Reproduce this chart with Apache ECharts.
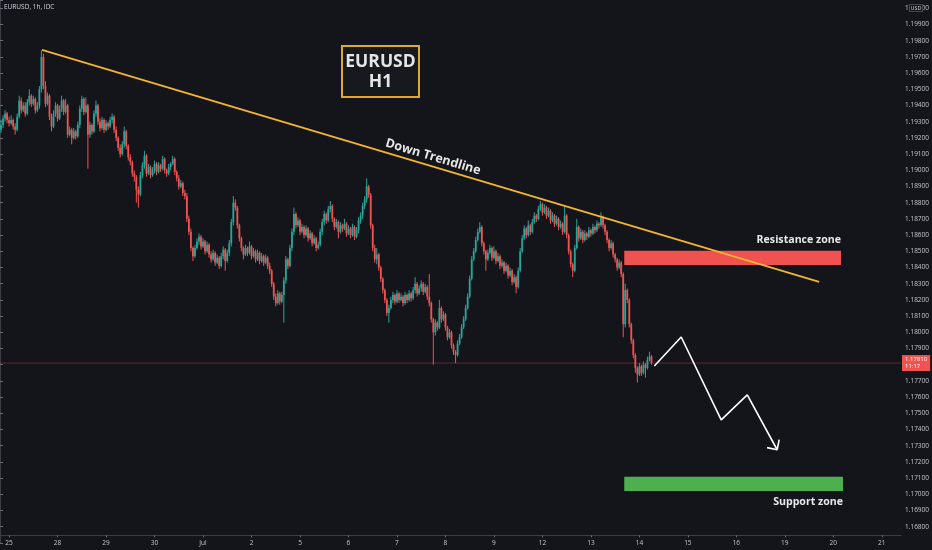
<!DOCTYPE html>
<html>
<head>
<meta charset="utf-8">
<script src="https://cdn.jsdelivr.net/npm/echarts@6/dist/echarts.min.js"></script>
<style>
html,body{margin:0;padding:0;background:#14151b;}
#c{width:932px;height:550px;}
</style>
</head>
<body>
<div id="c"></div>
<script>
// ---- x-axis day labels (TradingView hourly, weekends skipped) ----
var firstDayLabel = '24';           // partial day before the first labelled day
var firstDayHours = [20, 21, 22, 23];
var dayLabels = ['25','28','29','30','Jul','2','5','6','7','8','9','12','13','14','15','16','19','20'];
var lastDayLabel = '21';
var lastDayHours = [0,1,2,3,4,5,6,7,8,9];

// ---- hourly candles (EURUSD H1) ----
var opens = [
1.1925,1.1928,1.1932,1.1935,1.1931,1.1929,1.1931,1.1927,1.1925,1.1933,
1.1943,1.1937,1.1940,1.1935,1.1942,1.1946,1.1941,1.1944,1.1937,1.1940,
1.1950,1.1970,1.1952,1.1941,1.1946,1.1933,1.1927,1.1935,1.1940,1.1932,
1.1938,1.1943,1.1936,1.1940,1.1922,1.1925,1.1920,1.1924,1.1921,1.1928,
1.1938,1.1944,1.1936,1.1940,1.1922,1.1928,1.1924,1.1935,1.1940,1.1930,
1.1926,1.1931,1.1925,1.1929,1.1927,1.1931,1.1933,1.1925,1.1920,1.1914,
1.1910,1.1916,1.1924,1.1915,1.1908,1.1905,1.1898,1.1896,1.1888,1.1885,
1.1897,1.1903,1.1909,1.1898,1.1902,1.1897,1.1900,1.1904,1.1899,1.1903,
1.1901,1.1907,1.1900,1.1898,1.1902,1.1904,1.1907,1.1899,1.1895,1.1890,
1.1892,1.1886,1.1884,1.1870,1.1862,1.1852,1.1847,1.1852,1.1856,1.1859,
1.1853,1.1856,1.1850,1.1854,1.1848,1.1845,1.1849,1.1843,1.1846,1.1841,
1.1847,1.1851,1.1844,1.1849,1.1855,1.1868,1.1880,1.1877,1.1866,1.1858,
1.1852,1.1848,1.1852,1.1849,1.1853,1.1847,1.1850,1.1845,1.1849,1.1844,
1.1847,1.1843,1.1846,1.1841,1.1838,1.1830,1.1822,1.1818,1.1824,1.1819,
1.1823,1.1832,1.1845,1.1841,1.1852,1.1862,1.1873,1.1866,1.1869,1.1862,
1.1865,1.1860,1.1864,1.1858,1.1861,1.1855,1.1858,1.1852,1.1854,1.1862,
1.1868,1.1873,1.1869,1.1876,1.1878,1.1870,1.1865,1.1868,1.1862,1.1866,
1.1864,1.1867,1.1861,1.1864,1.1860,1.1865,1.1859,1.1863,1.1869,1.1872,
1.1878,1.1882,1.1890,1.1885,1.1866,1.1852,1.1845,1.1848,1.1840,1.1833,
1.1826,1.1820,1.1812,1.1815,1.1820,1.1823,1.1819,1.1824,1.1820,1.1822,
1.1818,1.1823,1.1820,1.1824,1.1821,1.1826,1.1830,1.1824,1.1827,1.1830,
1.1825,1.1828,1.1822,1.1818,1.1808,1.1800,1.1806,1.1803,1.1815,1.1808,
1.1811,1.1803,1.1797,1.1800,1.1792,1.1788,1.1786,1.1793,1.1797,1.1803,
1.1808,1.1815,1.1822,1.1833,1.1845,1.1850,1.1857,1.1862,1.1865,1.1855,
1.1850,1.1845,1.1849,1.1852,1.1846,1.1850,1.1844,1.1847,1.1841,1.1843,
1.1838,1.1841,1.1835,1.1838,1.1831,1.1834,1.1828,1.1838,1.1850,1.1858,
1.1864,1.1860,1.1866,1.1862,1.1868,1.1872,1.1870,1.1876,1.1879,1.1874,
1.1877,1.1872,1.1875,1.1869,1.1872,1.1867,1.1870,1.1865,1.1867,1.1862,
1.1872,1.1860,1.1850,1.1842,1.1838,1.1852,1.1865,1.1858,1.1862,1.1857,
1.1861,1.1859,1.1863,1.1861,1.1865,1.1863,1.1867,1.1866,1.1871,1.1866,
1.1862,1.1857,1.1852,1.1855,1.1848,1.1845,1.1840,1.1843,1.1836,1.1805,
1.1826,1.1820,1.1805,1.1795,1.1786,1.1778,1.1774,1.1779,1.1775,1.1780,
1.1778,1.1783,1.1785
];
var closes = [
1.1928,1.1932,1.1935,1.1931,1.1929,1.1931,1.1927,1.1925,1.1933,1.1943,
1.1937,1.1940,1.1935,1.1942,1.1946,1.1941,1.1944,1.1937,1.1940,1.1950,
1.1970,1.1952,1.1941,1.1946,1.1933,1.1927,1.1935,1.1940,1.1932,1.1938,
1.1943,1.1936,1.1940,1.1922,1.1925,1.1920,1.1924,1.1921,1.1928,1.1938,
1.1944,1.1936,1.1940,1.1922,1.1928,1.1924,1.1935,1.1940,1.1930,1.1926,
1.1931,1.1925,1.1929,1.1927,1.1931,1.1933,1.1925,1.1920,1.1914,1.1910,
1.1916,1.1924,1.1915,1.1908,1.1905,1.1898,1.1896,1.1888,1.1885,1.1897,
1.1903,1.1909,1.1898,1.1902,1.1897,1.1900,1.1904,1.1899,1.1903,1.1901,
1.1907,1.1900,1.1898,1.1902,1.1904,1.1907,1.1899,1.1895,1.1890,1.1892,
1.1886,1.1884,1.1870,1.1862,1.1852,1.1847,1.1852,1.1856,1.1859,1.1853,
1.1856,1.1850,1.1854,1.1848,1.1845,1.1849,1.1843,1.1846,1.1841,1.1847,
1.1851,1.1844,1.1849,1.1855,1.1868,1.1880,1.1877,1.1866,1.1858,1.1852,
1.1848,1.1852,1.1849,1.1853,1.1847,1.1850,1.1845,1.1849,1.1844,1.1847,
1.1843,1.1846,1.1841,1.1838,1.1830,1.1822,1.1818,1.1824,1.1819,1.1823,
1.1832,1.1845,1.1841,1.1852,1.1862,1.1873,1.1866,1.1869,1.1862,1.1865,
1.1860,1.1864,1.1858,1.1861,1.1855,1.1858,1.1852,1.1854,1.1862,1.1868,
1.1873,1.1869,1.1876,1.1878,1.1870,1.1865,1.1868,1.1862,1.1866,1.1864,
1.1867,1.1861,1.1864,1.1860,1.1865,1.1859,1.1863,1.1869,1.1872,1.1878,
1.1882,1.1890,1.1885,1.1866,1.1852,1.1845,1.1848,1.1840,1.1833,1.1826,
1.1820,1.1812,1.1815,1.1820,1.1823,1.1819,1.1824,1.1820,1.1822,1.1818,
1.1823,1.1820,1.1824,1.1821,1.1826,1.1830,1.1824,1.1827,1.1830,1.1825,
1.1828,1.1822,1.1818,1.1808,1.1800,1.1806,1.1803,1.1815,1.1808,1.1811,
1.1803,1.1797,1.1800,1.1792,1.1788,1.1786,1.1793,1.1797,1.1803,1.1808,
1.1815,1.1822,1.1833,1.1845,1.1850,1.1857,1.1862,1.1865,1.1855,1.1850,
1.1845,1.1849,1.1852,1.1846,1.1850,1.1844,1.1847,1.1841,1.1843,1.1838,
1.1841,1.1835,1.1838,1.1831,1.1834,1.1828,1.1838,1.1850,1.1858,1.1864,
1.1860,1.1866,1.1862,1.1868,1.1872,1.1870,1.1876,1.1879,1.1874,1.1877,
1.1872,1.1875,1.1869,1.1872,1.1867,1.1870,1.1865,1.1867,1.1862,1.1872,
1.1860,1.1850,1.1842,1.1838,1.1852,1.1865,1.1858,1.1862,1.1857,1.1861,
1.1859,1.1863,1.1861,1.1865,1.1863,1.1867,1.1866,1.1871,1.1866,1.1862,
1.1857,1.1852,1.1855,1.1848,1.1845,1.1840,1.1843,1.1836,1.1805,1.1826,
1.1820,1.1805,1.1795,1.1786,1.1778,1.1774,1.1779,1.1775,1.1780,1.1778,
1.1783,1.1785,1.1781
];
var lows = [
1.1923,1.1926,1.1930,1.1929,1.1927,1.1928,1.1925,1.1922,1.1924,1.1932,
1.1935,1.1936,1.1933,1.1934,1.1940,1.1939,1.1940,1.1935,1.1936,1.1938,
1.1948,1.1950,1.1939,1.1940,1.1931,1.1924,1.1926,1.1933,1.1930,1.1931,
1.1936,1.1934,1.1935,1.1920,1.1921,1.1916,1.1919,1.1919,1.1920,1.1926,
1.1936,1.1934,1.1935,1.1901,1.1920,1.1922,1.1923,1.1933,1.1928,1.1924,
1.1925,1.1923,1.1924,1.1925,1.1926,1.1929,1.1923,1.1918,1.1912,1.1908,
1.1909,1.1914,1.1913,1.1906,1.1903,1.1896,1.1893,1.1880,1.1877,1.1884,
1.1895,1.1901,1.1896,1.1897,1.1895,1.1896,1.1898,1.1897,1.1898,1.1899,
1.1900,1.1898,1.1896,1.1897,1.1900,1.1903,1.1897,1.1893,1.1888,1.1889,
1.1884,1.1882,1.1868,1.1860,1.1850,1.1844,1.1846,1.1851,1.1854,1.1851,
1.1852,1.1848,1.1849,1.1846,1.1843,1.1844,1.1841,1.1842,1.1839,1.1840,
1.1845,1.1838,1.1843,1.1847,1.1853,1.1866,1.1875,1.1864,1.1856,1.1850,
1.1845,1.1847,1.1847,1.1848,1.1845,1.1846,1.1843,1.1844,1.1842,1.1843,
1.1841,1.1842,1.1839,1.1836,1.1828,1.1820,1.1816,1.1817,1.1817,1.1818,
1.1806,1.1830,1.1839,1.1840,1.1850,1.1860,1.1864,1.1865,1.1860,1.1861,
1.1858,1.1859,1.1856,1.1857,1.1853,1.1854,1.1850,1.1851,1.1853,1.1860,
1.1866,1.1867,1.1868,1.1874,1.1868,1.1863,1.1864,1.1858,1.1861,1.1862,
1.1863,1.1859,1.1860,1.1858,1.1859,1.1857,1.1858,1.1861,1.1867,1.1870,
1.1876,1.1880,1.1883,1.1864,1.1850,1.1843,1.1842,1.1838,1.1831,1.1824,
1.1818,1.1810,1.1806,1.1814,1.1818,1.1817,1.1818,1.1818,1.1819,1.1816,
1.1817,1.1818,1.1819,1.1819,1.1820,1.1824,1.1822,1.1823,1.1825,1.1823,
1.1824,1.1820,1.1816,1.1806,1.1780,1.1798,1.1801,1.1802,1.1806,1.1807,
1.1801,1.1795,1.1796,1.1790,1.1786,1.1781,1.1785,1.1792,1.1796,1.1802,
1.1807,1.1814,1.1821,1.1832,1.1844,1.1849,1.1856,1.1861,1.1853,1.1848,
1.1838,1.1844,1.1848,1.1844,1.1845,1.1842,1.1843,1.1839,1.1840,1.1836,
1.1837,1.1833,1.1834,1.1829,1.1830,1.1824,1.1827,1.1837,1.1849,1.1857,
1.1858,1.1859,1.1860,1.1861,1.1867,1.1868,1.1869,1.1875,1.1872,1.1873,
1.1870,1.1871,1.1867,1.1868,1.1865,1.1866,1.1863,1.1864,1.1860,1.1861,
1.1858,1.1848,1.1840,1.1834,1.1837,1.1851,1.1856,1.1857,1.1855,1.1856,
1.1857,1.1858,1.1859,1.1860,1.1861,1.1862,1.1864,1.1865,1.1864,1.1860,
1.1855,1.1850,1.1851,1.1846,1.1843,1.1838,1.1839,1.1834,1.1797,1.1803,
1.1818,1.1803,1.1793,1.1784,1.1775,1.1769,1.1773,1.1773,1.1774,1.1772,
1.1777,1.1782,1.1780
];
var highs = [
1.1931,1.1934,1.1937,1.1936,1.1933,1.1934,1.1932,1.1929,1.1935,1.1946,
1.1945,1.1942,1.1942,1.1944,1.1950,1.1947,1.1946,1.1945,1.1942,1.1952,
1.1974,1.1972,1.1955,1.1948,1.1947,1.1935,1.1937,1.1942,1.1941,1.1940,
1.1946,1.1944,1.1944,1.1941,1.1927,1.1926,1.1926,1.1925,1.1930,1.1940,
1.1946,1.1945,1.1945,1.1941,1.1930,1.1929,1.1937,1.1943,1.1941,1.1932,
1.1933,1.1932,1.1931,1.1930,1.1933,1.1935,1.1934,1.1927,1.1921,1.1916,
1.1918,1.1927,1.1925,1.1916,1.1910,1.1906,1.1900,1.1897,1.1890,1.1899,
1.1905,1.1912,1.1910,1.1904,1.1903,1.1902,1.1906,1.1905,1.1905,1.1904,
1.1909,1.1908,1.1901,1.1904,1.1905,1.1909,1.1908,1.1900,1.1897,1.1894,
1.1893,1.1888,1.1886,1.1872,1.1864,1.1853,1.1854,1.1858,1.1861,1.1860,
1.1858,1.1857,1.1856,1.1855,1.1850,1.1851,1.1850,1.1848,1.1847,1.1849,
1.1853,1.1852,1.1851,1.1857,1.1870,1.1884,1.1882,1.1878,1.1867,1.1859,
1.1853,1.1854,1.1853,1.1856,1.1854,1.1852,1.1851,1.1851,1.1850,1.1849,
1.1848,1.1848,1.1847,1.1843,1.1839,1.1831,1.1824,1.1826,1.1825,1.1825,
1.1834,1.1847,1.1846,1.1854,1.1864,1.1877,1.1874,1.1871,1.1870,1.1867,
1.1866,1.1866,1.1865,1.1863,1.1862,1.1860,1.1859,1.1856,1.1864,1.1870,
1.1875,1.1874,1.1878,1.1881,1.1879,1.1871,1.1870,1.1869,1.1868,1.1867,
1.1870,1.1868,1.1866,1.1865,1.1867,1.1866,1.1865,1.1871,1.1874,1.1880,
1.1884,1.1895,1.1891,1.1886,1.1867,1.1854,1.1852,1.1849,1.1841,1.1834,
1.1827,1.1821,1.1817,1.1822,1.1825,1.1824,1.1826,1.1825,1.1824,1.1823,
1.1825,1.1824,1.1826,1.1825,1.1828,1.1834,1.1831,1.1829,1.1832,1.1831,
1.1830,1.1829,1.1836,1.1819,1.1809,1.1808,1.1807,1.1820,1.1816,1.1813,
1.1812,1.1804,1.1802,1.1801,1.1793,1.1789,1.1795,1.1799,1.1805,1.1810,
1.1817,1.1824,1.1835,1.1847,1.1852,1.1859,1.1864,1.1868,1.1866,1.1856,
1.1851,1.1851,1.1854,1.1853,1.1853,1.1851,1.1849,1.1848,1.1845,1.1844,
1.1843,1.1842,1.1840,1.1839,1.1836,1.1835,1.1840,1.1852,1.1860,1.1866,
1.1865,1.1869,1.1867,1.1870,1.1874,1.1873,1.1878,1.1881,1.1880,1.1879,
1.1878,1.1877,1.1876,1.1874,1.1873,1.1872,1.1871,1.1869,1.1868,1.1878,
1.1873,1.1861,1.1851,1.1843,1.1854,1.1870,1.1866,1.1864,1.1863,1.1863,
1.1862,1.1865,1.1864,1.1867,1.1866,1.1869,1.1868,1.1874,1.1872,1.1867,
1.1863,1.1858,1.1857,1.1856,1.1849,1.1846,1.1845,1.1844,1.1837,1.1830,
1.1827,1.1821,1.1806,1.1796,1.1787,1.1779,1.1781,1.1780,1.1782,1.1781,
1.1785,1.1788,1.1786
];

// ---- price axis ----
var priceMin = 1.167, priceMax = 1.20051, priceStep = 0.001;
var lastPrice = 1.1781, lastPriceLabel = '1.17810', countdownLabel = '11:17';

// ---- drawings (x in bar units along the time axis, y in price) ----
var trendX = [20.77, 405.5];
var trendY = [1.19743, 1.18311];
var zoneNames  = ['Resistance zone', 'Support zone'];
var zoneX0 = [309.0, 309.0];
var zoneX1 = [416.3, 417.3];
var zoneTop = [1.18504, 1.17109];
var zoneBot = [1.18415, 1.17020];
var zoneColors = ['#f05252', '#4caf50'];
var pathX = [323.9, 337.2, 357.0, 369.9, 384.7];
var pathY = [1.17792, 1.17971, 1.17459, 1.17614, 1.17275];
var headX = [379.7, 384.7, 385.7];
var headY = [1.17288, 1.17275, 1.17337];

// ---- build library inputs ----
function hh(h){ return (h < 10 ? '0' : '') + h + ':00'; }
var categories = [];
firstDayHours.forEach(function(h){ categories.push(firstDayLabel + ' ' + hh(h)); });
dayLabels.forEach(function(d){ for (var h = 0; h < 24; h++) categories.push(d + ' ' + hh(h)); });
lastDayHours.forEach(function(h){ categories.push(lastDayLabel + ' ' + hh(h)); });
var nSlots = categories.length;

var candleRows = opens.map(function(o, i){ return [i, o, closes[i], lows[i], highs[i]]; });
function pairs(xs, ys){ return xs.map(function(x, i){ return [x, ys[i]]; }); }
var zoneData = zoneNames.map(function(n, i){ return [zoneX0[i], zoneTop[i], zoneX1[i], zoneBot[i], i]; });

var BG = '#14151b';
var AXIS = '#3b3c44';
var TXT = '#c4c5ca';
var UP = '#26a69a', DOWN = '#ef5350';
var FONT = '"Open Sans", "Noto Sans", sans-serif';

var chart = echarts.init(document.getElementById('c'), null, {renderer: 'canvas'});
var isDayStart = function(idx, val){ return /00:00$/.test(val); };
function isWholeStep(v){ return Math.abs(v / priceStep - Math.round(v / priceStep)) < 1e-6; }

chart.setOption({
  backgroundColor: BG,
  animation: false,
  grid: { left: 0, right: 30, top: 0, bottom: 7.1, containLabel: false },
  xAxis: [{
    type: 'category',
    data: categories,
    boundaryGap: true,
    offset: -7.6,
    axisLine: { show: true, lineStyle: { color: AXIS, width: 1 } },
    axisTick: { show: true, interval: isDayStart, alignWithLabel: true, length: 2, lineStyle: { color: '#6b6c74' } },
    axisLabel: { interval: isDayStart, formatter: function(v){ return v.split(' ')[0]; },
                 color: TXT, fontSize: 6.5, fontFamily: FONT, margin: 4 },
    splitLine: { show: false }
  }, {
    type: 'value', min: 0, max: nSlots, show: false
  }],
  yAxis: [{
    type: 'value',
    position: 'right',
    min: priceMin, max: priceMax, interval: priceStep,
    axisLine: { show: true, lineStyle: { color: AXIS, width: 1 } },
    axisTick: { show: true, length: 3, lineStyle: { color: '#6b6c74' } },
    axisLabel: { color: TXT, fontSize: 6.5, fontFamily: FONT, margin: 4,
      formatter: function(v){ return (v < priceMin + 0.0005 || !isWholeStep(v)) ? '' : v.toFixed(5); } },
    splitLine: { show: false }
  }],
  series: [{
    // current price line with its axis badge
    type: 'line', xAxisIndex: 1,
    data: [[0, lastPrice], [nSlots, lastPrice]],
    symbol: 'none', silent: true,
    lineStyle: { color: 'rgba(239,83,80,0.32)', width: 1 },
    endLabel: { show: true, formatter: lastPriceLabel + '\n' + countdownLabel,
                backgroundColor: '#ef5350', color: '#ffffff', fontSize: 6, lineHeight: 7,
                padding: [1, 3, 1, 3], fontFamily: FONT, distance: 1 },
    z: 1
  }, {
    type: 'custom',
    data: candleRows,
    encode: { x: 0, y: [1, 2, 3, 4] },
    renderItem: function(params, api){
      var x = api.value(0), o = api.value(1), c = api.value(2), l = api.value(3), h = api.value(4);
      var pO = api.coord([x, o]), pC = api.coord([x, c]), pL = api.coord([x, l]), pH = api.coord([x, h]);
      var col = c >= o ? UP : DOWN;
      var top = Math.min(pO[1], pC[1]);
      var bh = Math.max(Math.abs(pO[1] - pC[1]), 1);
      return { type: 'group', children: [
        { type: 'line', shape: { x1: pH[0], y1: pH[1], x2: pL[0], y2: pL[1] }, style: { stroke: col, lineWidth: 1 } },
        { type: 'rect', shape: { x: pO[0] - 0.9, y: top, width: 1.8, height: bh }, style: { fill: col } }
      ]};
    },
    silent: true, z: 2
  }, {
    type: 'custom',
    xAxisIndex: 1,
    data: zoneData,
    encode: { x: [0, 2], y: [1, 3] },
    renderItem: function(params, api){
      var p0 = api.coord([api.value(0), api.value(1)]);
      var p1 = api.coord([api.value(2), api.value(3)]);
      return { type: 'rect', shape: { x: p0[0], y: p0[1], width: p1[0] - p0[0], height: p1[1] - p0[1] },
               style: { fill: zoneColors[api.value(4)] } };
    },
    silent: true, z: 3
  }, {
    type: 'line', xAxisIndex: 1, data: pairs(trendX, trendY), symbol: 'none',
    lineStyle: { color: '#f4b52c', width: 1.7 }, silent: true, z: 4
  }, {
    type: 'line', xAxisIndex: 1, data: pairs(pathX, pathY), symbol: 'none',
    lineStyle: { color: '#ffffff', width: 1.6 }, silent: true, z: 5
  }, {
    type: 'line', xAxisIndex: 1, data: pairs(headX, headY), symbol: 'none',
    lineStyle: { color: '#ffffff', width: 1.6 }, silent: true, z: 5
  }],
  graphic: [
    { type: 'text', left: 4, top: 4, style: { text: 'EURUSD, 1h, IDC', fill: '#d1d4dc', fontSize: 6.5, fontFamily: FONT } },
    { type: 'rect', shape: { x: 342, y: 46, width: 77, height: 51 },
      style: { fill: '#18191f', stroke: '#e0a82e', lineWidth: 2 }, z: 10 },
    { type: 'text', x: 380.5, y: 62.5, z: 11,
      style: { text: 'EURUSD', fill: '#e6e6e6', fontSize: 17.5, fontWeight: 'bold', fontFamily: FONT, align: 'center', verticalAlign: 'middle' } },
    { type: 'text', x: 380.5, y: 82.5, z: 11,
      style: { text: 'H1', fill: '#e6e6e6', fontSize: 17.5, fontWeight: 'bold', fontFamily: FONT, align: 'center', verticalAlign: 'middle' } },
    { type: 'text', x: 433, y: 157, rotation: -0.29, z: 11,
      style: { text: 'Down Trendline', fill: '#e8e8e8', fontSize: 12.5, fontWeight: 'bold', fontFamily: FONT, align: 'center', verticalAlign: 'middle' } },
    { type: 'text', x: 841, y: 240, z: 11,
      style: { text: zoneNames[0], fill: '#e8e8e8', fontSize: 10.6, fontWeight: 'bold', fontFamily: FONT, align: 'right', verticalAlign: 'middle' } },
    { type: 'text', x: 843, y: 502, z: 11,
      style: { text: zoneNames[1], fill: '#e8e8e8', fontSize: 10.6, fontWeight: 'bold', fontFamily: FONT, align: 'right', verticalAlign: 'middle' } },
    { type: 'text', x: 916, y: 8, z: 12,
      style: { text: 'USD', fill: '#d1d4dc', fontSize: 5.5, fontFamily: FONT, align: 'center', verticalAlign: 'middle',
               backgroundColor: BG, borderColor: '#7a7b82', borderWidth: 0.6, padding: [0, 1, 0, 1] } }
  ]
});
</script>
</body>
</html>
